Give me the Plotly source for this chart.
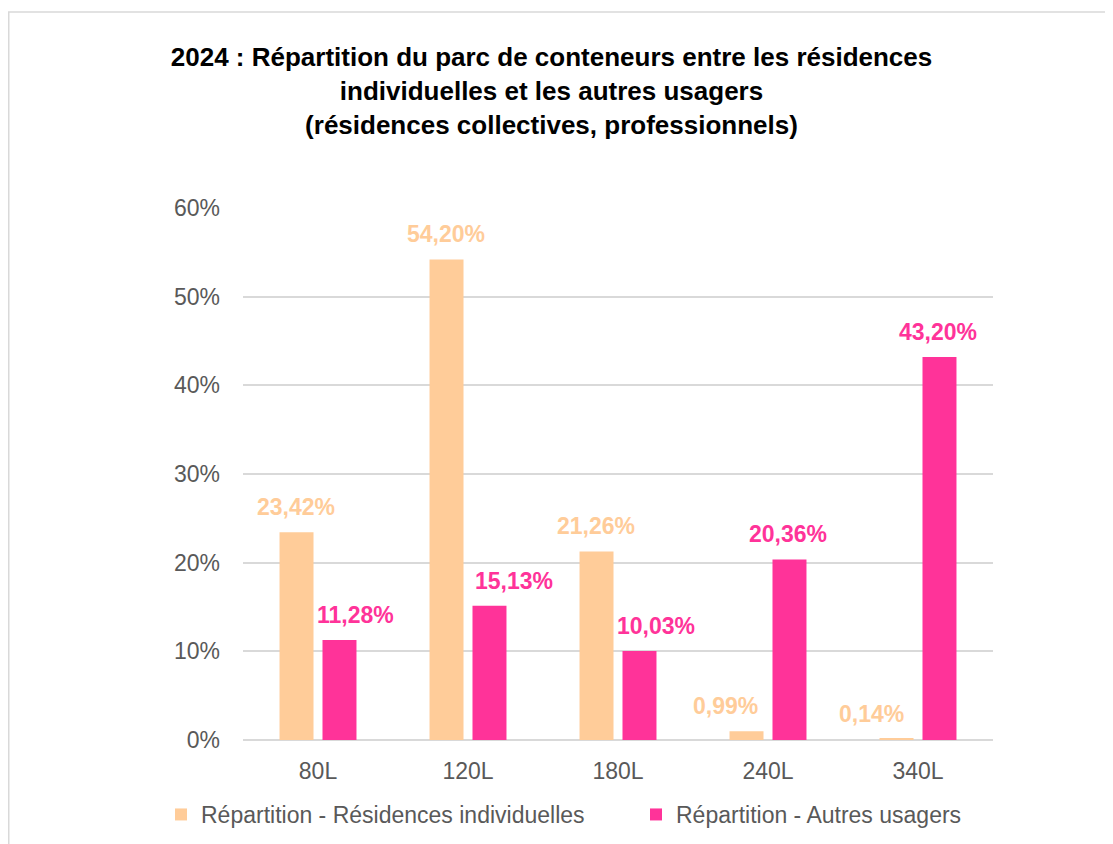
import plotly.graph_objects as go

categories = ["80L", "120L", "180L", "240L", "340L"]
residences_individuelles = [23.42, 54.20, 21.26, 0.99, 0.14]
autres_usagers = [11.28, 15.13, 10.03, 20.36, 43.20]
series_names = ["Répartition - Résidences individuelles", "Répartition - Autres usagers"]
y_tick_step = 10

# label horizontal offsets (px) relative to category centre
label_dx_ind = [-22, -22, -22, -43, -47]
label_dx_aut = [37, 46, 38, 20, 20]

PEACH = "#FFCC99"
PINK = "#FF3399"
GREY_TXT = "#595959"
GRID = "#D9D9D9"
FONT = "Liberation Sans, Arial, sans-serif"

W, H = 1113, 844
L, T, PW, PH = 235, 200, 750, 532

def fmt(v):
    return f"{v:.2f}".replace(".", ",") + "%"

fig = go.Figure()
fig.add_trace(go.Bar(x=categories, y=residences_individuelles, name=series_names[0],
                     marker=dict(color=PEACH, line=dict(width=0)), legend="legend",
                     showlegend=True))
fig.add_trace(go.Bar(x=categories, y=autres_usagers, name=series_names[1],
                     marker=dict(color=PINK, line=dict(width=0)), legend="legend2",
                     showlegend=True))

annotations = []
for vals, dxs, col in ((residences_individuelles, label_dx_ind, PEACH),
                       (autres_usagers, label_dx_aut, PINK)):
    for c, v, dx in zip(categories, vals, dxs):
        annotations.append(dict(x=c, y=v, xref="x", yref="y", text=fmt(v),
                                showarrow=False, xshift=dx, yshift=25,
                                yanchor="middle", xanchor="center",
                                font=dict(family=FONT, size=23, color=col, weight="bold")))

legend_common = dict(orientation="h", xref="container", yref="container",
                     xanchor="left", yanchor="middle", y=1 - 806.5 / H,
                     font=dict(family=FONT, size=23, color=GREY_TXT),
                     itemclick=False, bgcolor="rgba(0,0,0,0)", visible=True)

fig.update_layout(
    width=W, height=H,
    showlegend=True,
    margin=dict(l=L, r=W - L - PW, t=T, b=H - T - PH, autoexpand=False),
    paper_bgcolor="white", plot_bgcolor="white",
    barmode="group", bargap=0.427, bargroupgap=0.209,
    title=dict(text="2024 : Répartition du parc de conteneurs entre les résidences<br>individuelles et les autres usagers<br>(résidences collectives, professionnels)",
               x=543.5 / W, xref="container", xanchor="center",
               y=1 - 58 / H, yref="container", yanchor="top",
               font=dict(family=FONT, size=26, color="black", weight="bold")),
    font=dict(family=FONT, color=GREY_TXT),
    xaxis=dict(showgrid=False, showline=False, ticks="", zeroline=False,
               tickfont=dict(size=23, color=GREY_TXT), ticklabelstandoff=15),
    yaxis=dict(range=[0, 60], tickmode="linear", tick0=0, dtick=y_tick_step,
               ticksuffix="%", showgrid=True,
               gridcolor=GRID, gridwidth=1.5, zeroline=True, zerolinecolor=GRID,
               zerolinewidth=2, showline=False, ticks="",
               tickfont=dict(size=23, color=GREY_TXT), ticklabelstandoff=22),
    legend=dict(legend_common, x=153 / W),
    legend2=dict(legend_common, x=628 / W),
    annotations=annotations,
    shapes=[dict(type="rect", xref="paper", yref="paper",
                 x0=(0.75 - L) / PW, x1=(W + 20 - L) / PW,
                 y0=(T + PH - (H + 20)) / PH, y1=(T + PH - 4) / PH,
                 line=dict(color=GRID, width=1.5), fillcolor="rgba(0,0,0,0)",
                 layer="below")],
)

fig.write_html("out.html")
